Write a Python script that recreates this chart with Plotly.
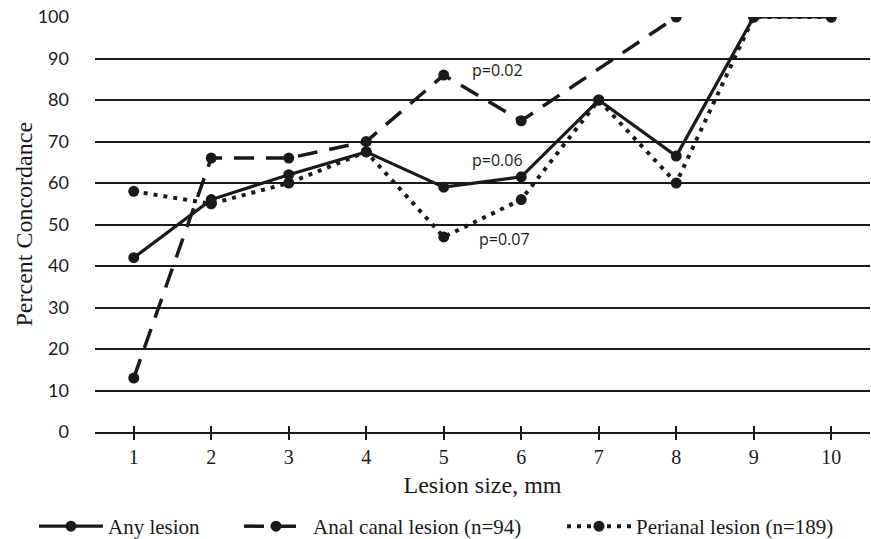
import plotly.graph_objects as go

sizes = [1, 2, 3, 4, 5, 6, 7, 8, 9, 10]
any_lesion = [42, 56, 62, 67.5, 59, 61.5, 80, 66.5, 100, 100]
anal_canal = [13, 66, 66, 70, 86, 75, None, 100, None, None]
perianal = [58, 55, 60, 67.5, 47, 56, 80, 60, 100, 100]
y_ticks = [0, 10, 20, 30, 40, 50, 60, 70, 80, 90, 100]

annotations_text = [("p=0.02", 5.69, 87.3), ("p=0.06", 5.69, 65.6), ("p=0.07", 5.79, 46.5)]

serif = "Liberation Serif, Times New Roman, serif"
sans = "Lato, Open Sans, sans-serif"
ink = "#1a1a1a"

fig = go.Figure()
fig.add_trace(go.Scatter(x=sizes, y=perianal, name="Perianal lesion (n=189)", mode="lines+markers",
                         legend="legend3",
                         line=dict(color=ink, width=4, dash="4px,6px"),
                         marker=dict(size=11, color=ink)))
fig.add_trace(go.Scatter(x=sizes, y=anal_canal, name="Anal canal lesion (n=94)", mode="lines+markers",
                         connectgaps=True, legend="legend2",
                         line=dict(color=ink, width=3.5, dash="20px,12px"),
                         marker=dict(size=11, color=ink)))
fig.add_trace(go.Scatter(x=sizes, y=any_lesion, name="Any lesion", mode="lines+markers",
                         legend="legend",
                         line=dict(color=ink, width=3.2),
                         marker=dict(size=11, color=ink)))
# invisible trace so the overlay axis (inner tick marks) is drawn
fig.add_trace(go.Scatter(x=[sizes[0]], y=[y_ticks[0]], xaxis="x2", mode="markers",
                         marker=dict(opacity=0), showlegend=False, hoverinfo="skip"))

for t, xx, yy in annotations_text:
    fig.add_annotation(x=xx, y=yy, text=t, showarrow=False, xanchor="center",
                       font=dict(family="Open Sans, sans-serif", size=16, color=ink))

# y-axis title
fig.add_annotation(x=(23 - 95) / 775, xref="paper", y=0.5, yref="paper",
                   text="Percent Concordance", textangle=-90, showarrow=False,
                   xanchor="center", yanchor="middle",
                   font=dict(family=serif, size=24, color=ink))

legend_font = dict(family=serif, size=21, color=ink)
def leg(xpx):
    return dict(orientation="h", x=xpx / 871, xanchor="left", xref="container",
                y=(539 - 506) / 539, yanchor="top", yref="container",
                font=legend_font, itemwidth=64, bgcolor="rgba(0,0,0,0)")

fig.update_layout(
    width=871, height=539,
    margin=dict(l=95, r=1, t=17, b=107, autoexpand=False),
    paper_bgcolor="white", plot_bgcolor="white",
    showlegend=True,
    legend=leg(34), legend2=leg(239), legend3=leg(562),
    xaxis=dict(range=[0.5, 10.5], tickmode="array", tickvals=sizes, ticktext=[str(s) for s in sizes],
               ticks="outside", ticklen=6, tickwidth=1.5, tickcolor=ink, automargin=False,
               showline=True, linecolor=ink, linewidth=2.2, showgrid=False, zeroline=False,
               tickfont=dict(family=serif, size=20, color=ink),
               title=dict(text="Lesion size, mm", font=dict(family=serif, size=24, color=ink), standoff=9)),
    xaxis2=dict(range=[0.5, 10.5], overlaying="x", side="bottom", anchor="y",
                tickmode="array", tickvals=sizes, showticklabels=False,
                ticks="inside", ticklen=6, tickwidth=1.5, tickcolor=ink,
                showgrid=False, zeroline=False, showline=False),
    yaxis=dict(range=[0, 100], tickmode="array", tickvals=y_ticks, automargin=False,
               showgrid=True, gridcolor=ink, gridwidth=1.6, zeroline=False,
               ticks="", ticklabelstandoff=25,
               tickfont=dict(family=sans, size=18, color=ink)),
)
fig.write_html("out.html", config={"displayModeBar": False},
               post_script="document.body.style.margin='0';document.body.style.overflow='hidden';")
